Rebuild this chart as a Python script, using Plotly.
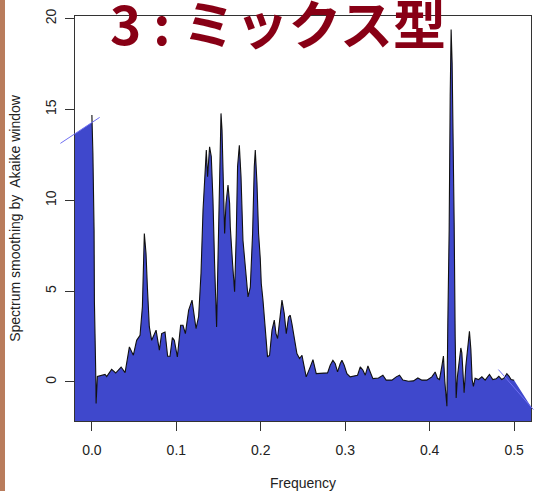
import numpy as np
import plotly.graph_objects as go

# ---- data ----
freq = [0.0000, 0.0012, 0.0026, 0.0030, 0.0045, 0.0050, 0.0065, 0.0097, 0.0156, 0.0175,
        0.0234, 0.0282, 0.0346, 0.0393, 0.0424, 0.0444, 0.0491, 0.0530, 0.0570, 0.0598,
        0.0621, 0.0641, 0.0657, 0.0680, 0.0708, 0.0760, 0.0799, 0.0826, 0.0866, 0.0897,
        0.0925, 0.0953, 0.0976, 0.1012, 0.1051, 0.1079, 0.1107, 0.1146, 0.1186, 0.1233,
        0.1264, 0.1292, 0.1316, 0.1343, 0.1355, 0.1370, 0.1394, 0.1414, 0.1434, 0.1453,
        0.1477, 0.1493, 0.1509, 0.1529, 0.1541, 0.1560, 0.1572, 0.1588, 0.1612, 0.1631,
        0.1639, 0.1666, 0.1690, 0.1710, 0.1725, 0.1746, 0.1766, 0.1789, 0.1817, 0.1849,
        0.1876, 0.1903, 0.1923, 0.1935, 0.1955, 0.1974, 0.1994, 0.2006, 0.2026, 0.2053,
        0.2080, 0.2104, 0.2133, 0.2160, 0.2180, 0.2199, 0.2222, 0.2251, 0.2278, 0.2302,
        0.2329, 0.2349, 0.2369, 0.2400, 0.2428, 0.2459, 0.2488, 0.2507, 0.2538, 0.2586,
        0.2618, 0.2657, 0.2724, 0.2791, 0.2822, 0.2854, 0.2882, 0.2909, 0.2941, 0.2961,
        0.2988, 0.3020, 0.3059, 0.3107, 0.3146, 0.3178, 0.3209, 0.3237, 0.3269, 0.3296,
        0.3328, 0.3394, 0.3446, 0.3485, 0.3553, 0.3604, 0.3643, 0.3683, 0.3749, 0.3808,
        0.3860, 0.3908, 0.3967, 0.4026, 0.4065, 0.4092, 0.4116, 0.4144, 0.4163, 0.4180,
        0.4192, 0.4204, 0.4215, 0.4231, 0.4243, 0.4254, 0.4266, 0.4278, 0.4290, 0.4302,
        0.4314, 0.4329, 0.4349, 0.4369, 0.4381, 0.4393, 0.4408, 0.4428, 0.4447, 0.4471,
        0.4488, 0.4503, 0.4518, 0.4538, 0.4578, 0.4618, 0.4657, 0.4708, 0.4748, 0.4787,
        0.4819, 0.4854, 0.4882, 0.4914, 0.4941, 0.4964, 0.5000]

spec = [14.69, 12.60, 8.35, 4.40, 0.64, -1.19, 0.30, 0.35, 0.41, 0.30,
        0.69, 0.49, 0.82, 0.51, 1.38, 1.93, 1.47, 2.29, 2.57, 4.13,
        8.17, 7.07, 5.24, 3.04, 2.29, 2.85, 1.75, 2.66, 2.75, 1.41,
        1.41, 2.44, 2.30, 1.38, 3.12, 3.12, 2.66, 3.95, 4.50, 2.94,
        3.60, 5.97, 9.45, 12.30, 12.76, 11.29, 12.94, 12.40, 10.00, 6.52,
        3.03, 6.70, 10.00, 14.78, 13.86, 10.00, 8.17, 9.82, 10.83, 9.82,
        8.54, 6.52, 4.96, 8.17, 11.84, 13.03, 11.29, 7.80, 6.33, 4.68,
        5.22, 8.17, 11.84, 12.76, 10.93, 8.17, 6.79, 5.42, 4.50, 3.03,
        1.38, 1.47, 2.85, 3.40, 2.66, 2.39, 3.40, 4.50, 3.76, 2.66,
        3.58, 3.67, 3.20, 2.30, 1.56, 1.29, 1.47, 1.01, 0.28, 0.83,
        1.23, 0.46, 0.46, 0.50, 0.92, 1.19, 1.00, 0.55, 1.01, 1.19,
        0.92, 0.46, 0.28, 0.31, 0.37, 0.83, 0.65, 0.37, 0.88, 0.55,
        0.18, 0.22, 0.37, 0.10, 0.10, 0.28, 0.37, 0.10, 0.04, 0.06,
        0.22, 0.10, 0.10, 0.28, 0.55, 0.20, 0.13, 0.86, 1.42, 0.00,
        -0.60, -1.34, 3.25, 8.39, 15.73, 19.40, 17.57, 14.08, 8.76, 2.52,
        -0.88, 0.31, 1.10, 1.87, 1.60, 0.86, -0.60, 0.86, 1.78, 2.79,
        1.78, 0.13, -0.24, 0.20, 0.13, 0.28, 0.10, 0.41, 0.13, 0.17,
        0.31, 0.13, 0.22, 0.46, 0.31, 0.13, 0.09]

# outline segments of the filled polygon at both ends
left_edge_f = [-0.0373, 0.0092]
left_edge_v = [13.13, 14.56]
right_edge_f = [0.4814, 0.5228]
right_edge_v = [0.68, -1.52]

x_ticks = [0.0, 0.1, 0.2, 0.3, 0.4, 0.5]
x_ticklabels = ["0.0", "0.1", "0.2", "0.3", "0.4", "0.5"]
y_ticks = [0, 5, 10, 15, 20]
y_ticklabels = ["0", "5", "10", "15", "20"]

x_range = [-0.02, 0.52]
y_range = [-2.15, 20.14]

title_text = "3 : ミックス型"
x_title = "Frequency"
y_title = "Spectrum smoothing by  Akaike window"

FILL = "#3F48CC"
EDGE = "#6F6FF2"
FONT = "Liberation Sans"

# ---- build polygon ----
def line_at(fx, fs, vs):
    (f0, f1), (v0, v1) = fs, vs
    return v0 + (v1 - v0) * (fx - f0) / (f1 - f0)

bottom = y_range[0] - 1
poly_x = [x_range[0], 0.0] + freq + [x_range[1], x_range[1], x_range[0]]
poly_y = ([line_at(x_range[0], left_edge_f, left_edge_v),
           line_at(0.0, left_edge_f, left_edge_v)] + spec +
          [line_at(x_range[1], right_edge_f, right_edge_v), bottom, bottom])

fig = go.Figure()
fig.add_trace(go.Scatter(x=poly_x, y=poly_y, fill="toself", fillcolor=FILL,
                         mode="lines", line=dict(width=0, color=FILL),
                         hoverinfo="skip", showlegend=False))
fig.add_trace(go.Scatter(x=freq, y=spec, mode="lines",
                         line=dict(color="#111111", width=1.1),
                         showlegend=False))

# edge segments (may extend beyond plot frame) -> paper x with data y
span = x_range[1] - x_range[0]
for fs, vs in ((left_edge_f, left_edge_v), (right_edge_f, right_edge_v)):
    fig.add_shape(type="line", xref="paper", yref="y",
                  x0=(fs[0] - x_range[0]) / span, x1=(fs[1] - x_range[0]) / span,
                  y0=vs[0], y1=vs[1], line=dict(color=EDGE, width=1))

# brown strip at the far left edge of the image
fig.add_shape(type="rect", xref="paper", yref="paper", xsizemode="pixel",
              xanchor=0, x0=-75, x1=-70, y0=-0.2, y1=1.1,
              line=dict(width=0), fillcolor="#B97C5C", layer="above")

fig.add_annotation(text=title_text, xref="paper", yref="paper",
                   x=0.445, y=0.985, xanchor="center", yanchor="middle",
                   showarrow=False,
                   font=dict(family="Noto Sans CJK JP", size=53, color="#880015",
                             weight="bold"))

axis_common = dict(showline=True, mirror=True, linecolor="#333333", linewidth=1,
                   showgrid=False, zeroline=False, ticks="outside", ticklen=9,
                   tickcolor="#333333",
                   tickfont=dict(family=FONT, size=14, color="#222222"))

fig.update_layout(
    width=534, height=491,
    margin=dict(l=75, r=3, t=16, b=70),
    paper_bgcolor="white", plot_bgcolor="white",
    xaxis=dict(range=x_range, tickvals=x_ticks, ticktext=x_ticklabels,
               ticklabelstandoff=7,
               title=dict(text=x_title, standoff=21,
                          font=dict(family=FONT, size=14, color="#222222")),
               **axis_common),
    yaxis=dict(range=y_range, tickvals=y_ticks, ticktext=y_ticklabels, tickangle=-90,
               ticklabelstandoff=3,
               title=dict(text=y_title, standoff=19,
                          font=dict(family=FONT, size=14, color="#222222")),
               **axis_common),
)

fig.write_html("out.html")
